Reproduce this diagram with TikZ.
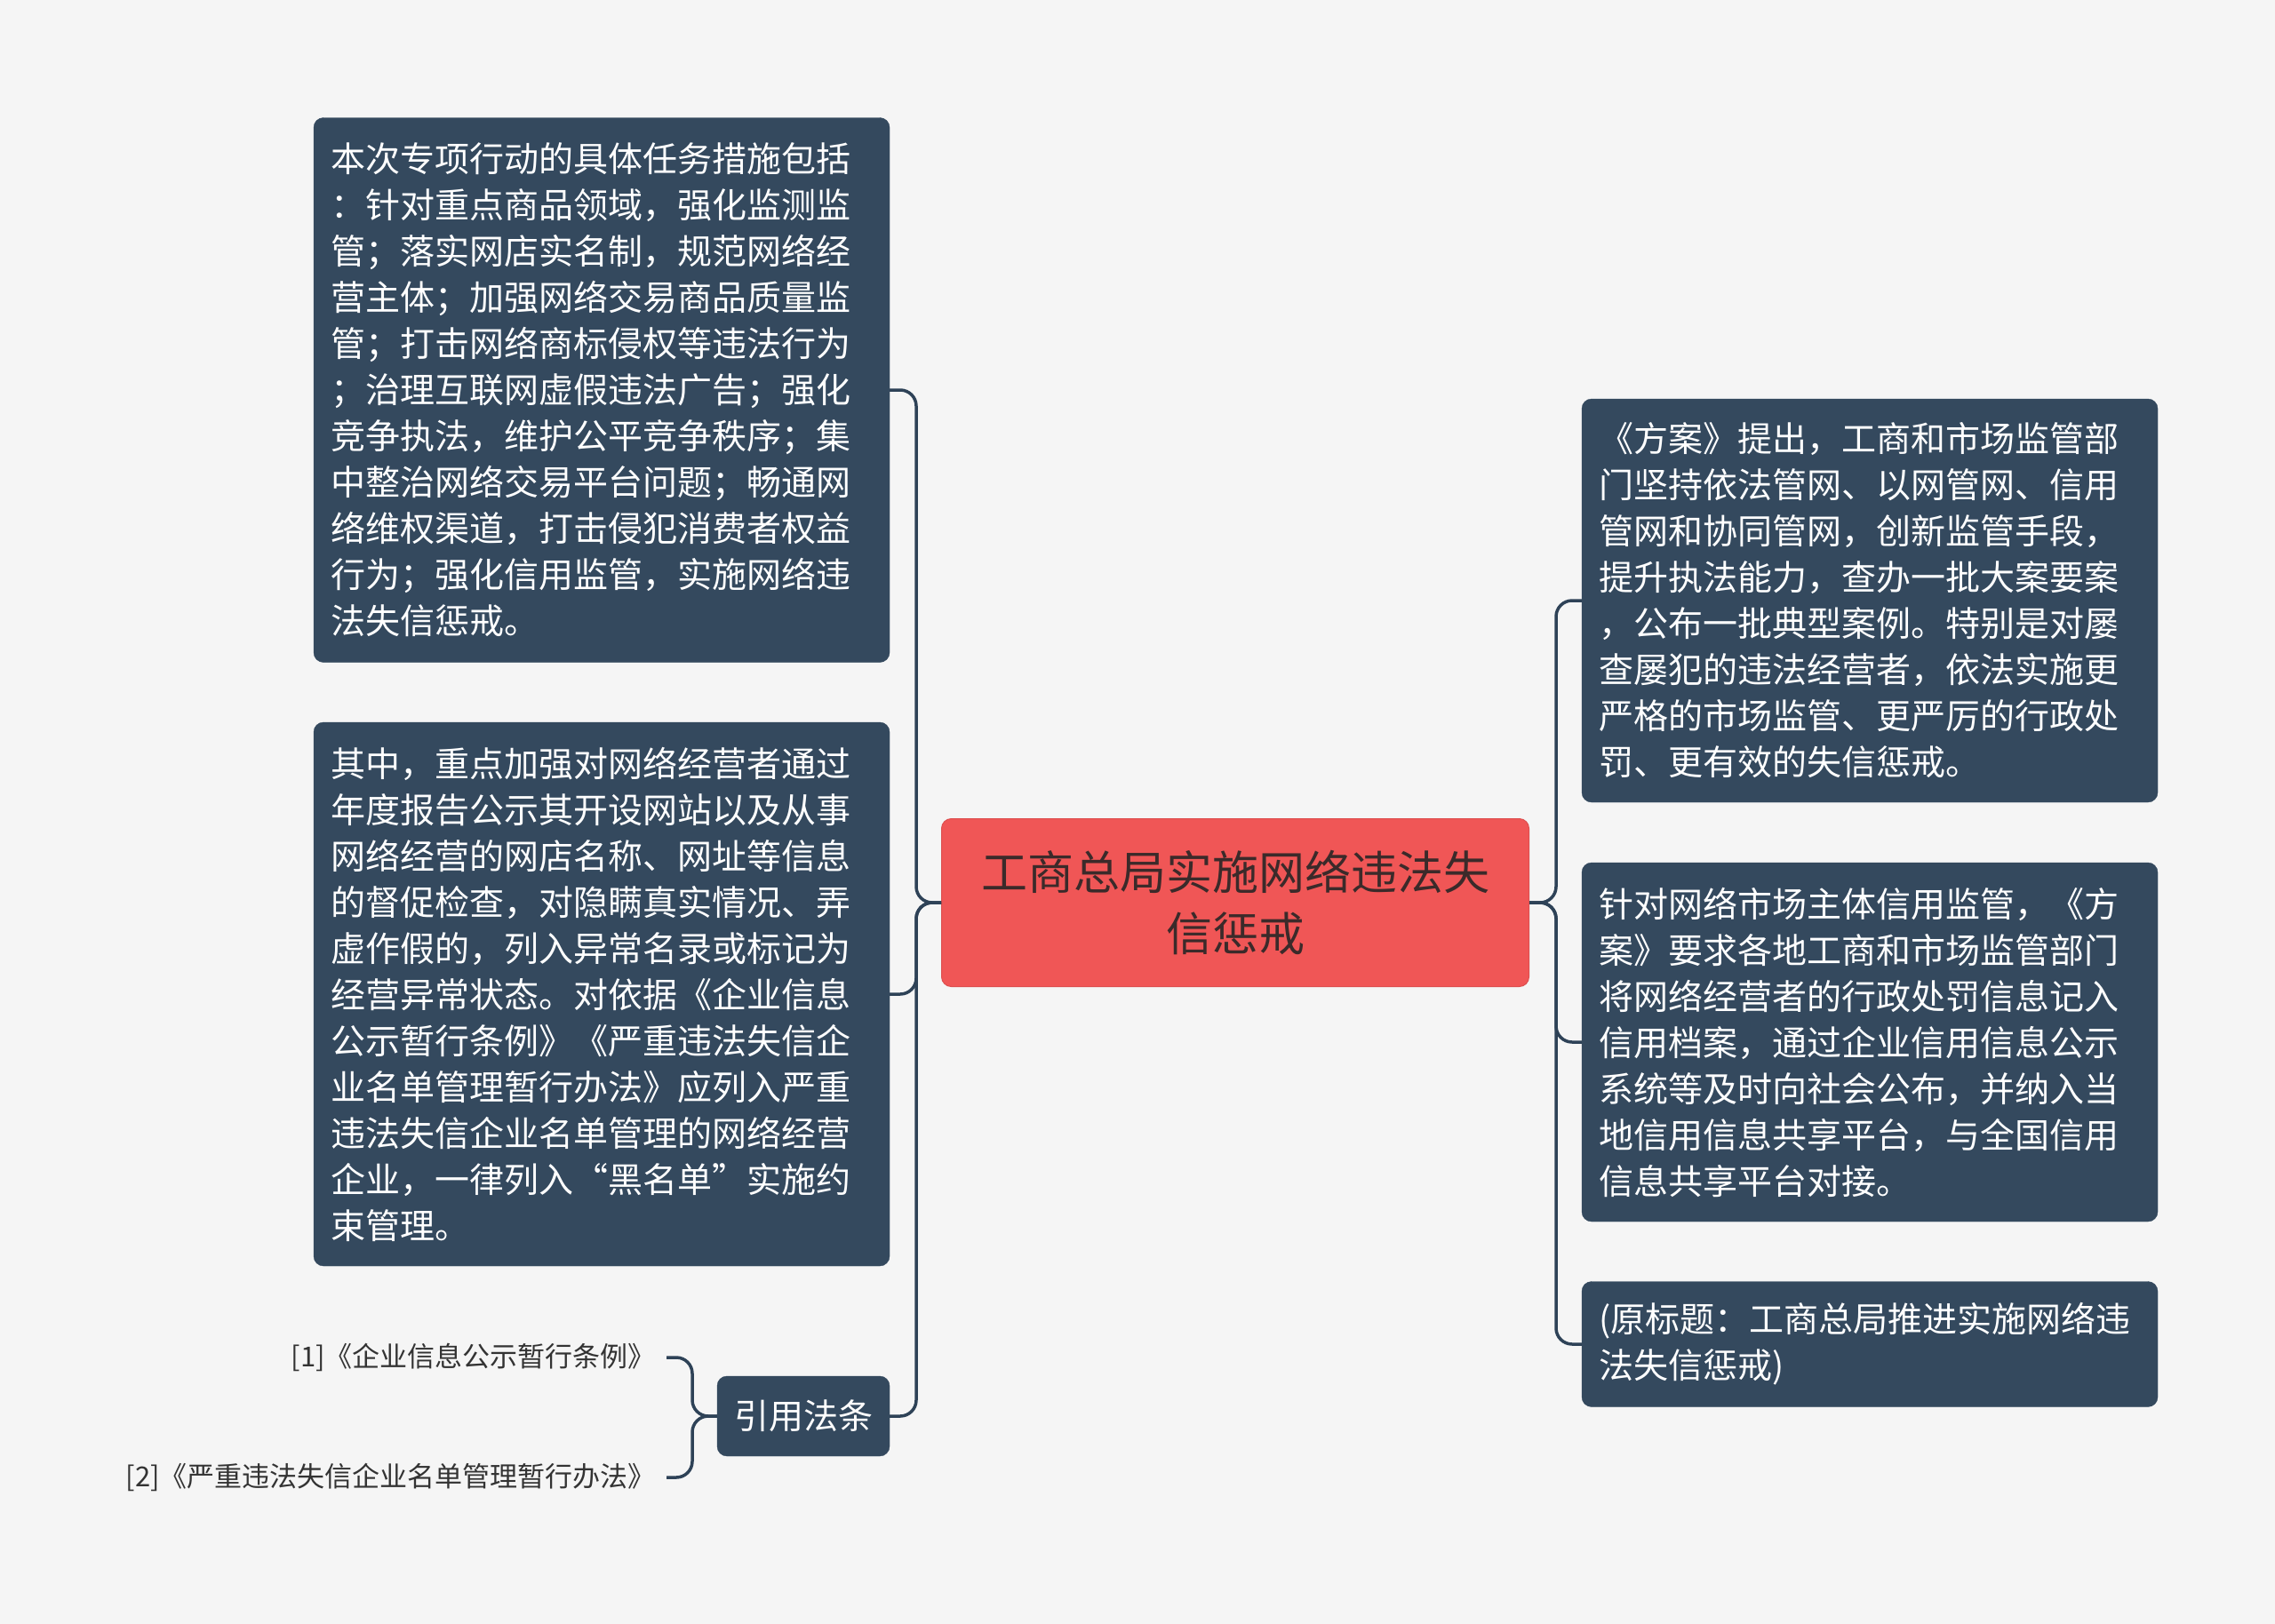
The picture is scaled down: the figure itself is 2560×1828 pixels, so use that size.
\documentclass[tikz,border=0pt]{standalone}
\usepackage{fontspec}
\setmainfont{Noto Sans CJK SC}
\definecolor{bgcol}{HTML}{F5F5F5}
\definecolor{boxcol}{HTML}{34495E}
\definecolor{linecol}{HTML}{2E4257}
\definecolor{rootcol}{HTML}{F05656}
\definecolor{roottext}{HTML}{3B2A2A}
\definecolor{labtext}{HTML}{333333}
\begin{document}
\begin{tikzpicture}[x=1pt,y=-1pt,
  topic/.style={fill=boxcol, draw=boxcol, rounded corners=11pt, text=white,
    font=\fontsize{39}{52}\selectfont, align=left, inner xsep=19pt, inner ysep=0pt,
    text width=610pt},
  rootnode/.style={fill=rootcol, draw=rootcol!92!black, line width=1pt, rounded corners=11pt,
    text=roottext, font=\fontsize{52}{69}\selectfont, align=center,
    minimum width=661pt, minimum height=189pt, inner sep=0pt},
  citenode/.style={fill=boxcol, draw=boxcol, rounded corners=11pt, text=white,
    font=\fontsize{39}{47}\selectfont, minimum width=194pt, minimum height=90pt, inner sep=0pt},
  lawlabel/.style={text=labtext, font=\fontsize{31}{37}\selectfont, anchor=east,
    inner xsep=12pt, inner ysep=4pt},
  conn/.style={draw=linecol, line width=3.5pt, rounded corners=18pt}
]
\fill[bgcol] (0,0) rectangle (2560,1828);
\useasboundingbox (0,0) rectangle (2560,1828);

\node[rootnode] (C) at (1390,1016) {工商总局实施网络违法失\\信惩戒};

\node[topic, minimum height=613pt] (L1) at (677,439) {本次专项行动的具体任务措施包括\\：针对重点商品领域，强化监测监\\管；落实网店实名制，规范网络经\\营主体；加强网络交易商品质量监\\管；打击网络商标侵权等违法行为\\；治理互联网虚假违法广告；强化\\竞争执法，维护公平竞争秩序；集\\中整治网络交易平台问题；畅通网\\络维权渠道，打击侵犯消费者权益\\行为；强化信用监管，实施网络违\\法失信惩戒。};

\node[topic, minimum height=612pt] (L2) at (677,1119) {其中，重点加强对网络经营者通过\\年度报告公示其开设网站以及从事\\网络经营的网店名称、网址等信息\\的督促检查，对隐瞒真实情况、弄\\虚作假的，列入异常名录或标记为\\经营异常状态。对依据《企业信息\\公示暂行条例》《严重违法失信企\\业名单管理暂行办法》应列入严重\\违法失信企业名单管理的网络经营\\企业，一律列入“黑名单”实施约\\束管理。};

\node[citenode] (cite) at (904,1594) {引用法条};

\node[lawlabel] (lab1) at (750,1528) {[1]《企业信息公示暂行条例》};
\node[lawlabel] (lab2) at (750,1663) {[2]《严重违法失信企业名单管理暂行办法》};

\node[topic, minimum height=454pt] (R1) at (2104,676) {《方案》提出，工商和市场监管部\\门坚持依法管网、以网管网、信用\\管网和协同管网，创新监管手段，\\提升执法能力，查办一批大案要案\\，公布一批典型案例。特别是对屡\\查屡犯的违法经营者，依法实施更\\严格的市场监管、更严厉的行政处\\罚、更有效的失信惩戒。};

\node[topic, minimum height=404pt] (R2) at (2104,1173) {针对网络市场主体信用监管，《方\\案》要求各地工商和市场监管部门\\将网络经营者的行政处罚信息记入\\信用档案，通过企业信用信息公示\\系统等及时向社会公布，并纳入当\\地信用信息共享平台，与全国信用\\信息共享平台对接。};

\node[topic, minimum height=141pt] (R3) at (2104,1513) {(原标题：工商总局推进实施网络违\\法失信惩戒)};

\coordinate (lj) at (1031,1016);
\coordinate (rj) at (1751,1016);
\coordinate (cj) at (779,1594);

\draw[conn] (C.west) -- (lj) |- (L1.east);
\draw[conn] (C.west) -- (lj) |- (L2.east);
\draw[conn] (C.west) -- (lj) |- (cite.east);
\draw[conn] (C.east) -- (rj) |- (R1.west);
\draw[conn] (C.east) -- (rj) |- (R2.west);
\draw[conn] (C.east) -- (rj) |- (R3.west);
\draw[conn] (cite.west) -- (cj) |- (lab1.east);
\draw[conn] (cite.west) -- (cj) |- (lab2.east);
\end{tikzpicture}
\end{document}
